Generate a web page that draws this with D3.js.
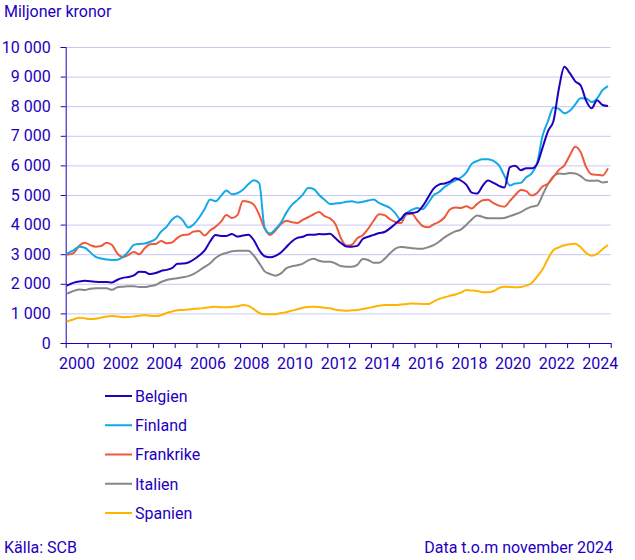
<!DOCTYPE html>
<html><head><meta charset="utf-8">
<script src="https://cdn.jsdelivr.net/npm/d3@7"></script>
<style>
body{margin:0;background:#fff}
svg{display:block}
text{font-family:Roboto,"Noto Sans",Arial,sans-serif}
</style></head>
<body><svg id="chart" width="635" height="560"></svg>
<script>
// ---- data (quarterly readings: Jan 2000, then Feb/May/Aug/Nov of each year) ----
const startMonth = "2000-01";
const quarterMonths = [2, 5, 8, 11];
const firstYear = 2000, lastYear = 2024;

const belgien = [1940,
1965,2040,2080,2100, 2090,2068,2061,2061, 2045,2138,2200,2232, 2285,2410,2398,2328,
2362,2435,2470,2530, 2675,2683,2720,2820, 2955,3130,3430,3645, 3618,3615,3685,3595,
3630,3660,3480,3140, 2930,2894,2945,3060, 3245,3430,3550,3590, 3660,3655,3680,3672,
3690,3540,3380,3262, 3254,3280,3515,3590, 3652,3715,3750,3873, 4030,4188,4382,4388,
4428,4623,4920,5218, 5353,5391,5449,5565, 5490,5350,5080,5050, 5310,5488,5410,5310,
5250,5940,5990,5840, 5900,5900,6050,6600, 7160,7500,8600,9330, 9115,8840,8700,8180,
7930,8200,8040,8006];

const finland = [3018,
3042,3140,3254,3220, 3064,2911,2853,2822, 2808,2813,2908,3085, 3313,3347,3362,3421,
3514,3760,3925,4167, 4280,4140,3900,4010, 4240,4530,4852,4790, 4970,5150,5025,5060,
5180,5360,5497,5400, 3900,3700,3850,4070, 4405,4668,4827,5012, 5235,5204,5000,4842,
4695,4714,4732,4770, 4790,4743,4770,4812, 4850,4730,4650,4560, 4380,4160,4380,4500,
4560,4520,4730,4990, 5100,5270,5390,5490, 5590,5760,6050,6150, 6210,6210,6150,6000,
5650,5320,5390,5410, 5600,5731,6080,7000, 7500,7960,7910,7760, 7845,8060,8270,8260,
8140,8260,8540,8682];

const frankrike = [3000,
2990,3047,3290,3390, 3307,3254,3278,3387, 3310,3020,2900,2975, 3077,3000,3200,3340,
3345,3445,3370,3395, 3553,3648,3667,3770, 3780,3630,3800,3930, 4100,4324,4220,4320,
4800,4775,4677,4338, 3864,3648,3803,4020, 4134,4083,4057,4161, 4248,4350,4426,4283,
4210,4010,3540,3290, 3320,3540,3640,3860, 4130,4350,4320,4180, 4090,4050,4340,4368,
4148,3952,3909,4010, 4090,4240,4510,4575, 4560,4620,4540,4700, 4820,4840,4725,4640,
4606,4800,5000,5170, 5130,4980,5070,5290, 5380,5610,5850,6000, 6340,6630,6440,5940,
5700,5680,5660,5900];

const italien = [1667,
1690,1760,1810,1790, 1835,1847,1847,1847, 1795,1883,1902,1920, 1915,1894,1890,1926,
1960,2060,2127,2165, 2190,2218,2260,2335, 2450,2570,2695,2870, 2985,3045,3098,3119,
3119,3119,2955,2700, 2420,2330,2275,2350, 2530,2590,2626,2680, 2790,2850,2776,2745,
2747,2685,2600,2578, 2578,2640,2840,2804, 2713,2710,2842,3029, 3190,3245,3230,3205,
3187,3187,3236,3305, 3420,3567,3678,3770, 3830,3990,4175,4310, 4260,4212,4212,4212,
4225,4285,4350,4420, 4530,4606,4640,5000, 5370,5630,5725,5710, 5740,5730,5640,5500,
5480,5490,5425,5450];

const spanien = [730,
745,800,853,834, 807,820,857,895, 911,893,874,879, 897,917,945,920,
912,940,1015,1060, 1107,1115,1132,1158, 1163,1186,1211,1225, 1207,1205,1215,1238,
1280,1255,1145,1020, 970,968,975,1010, 1040,1094,1140,1190, 1215,1227,1213,1190,
1171,1125,1106,1092, 1104,1118,1149,1183, 1223,1258,1280,1284, 1284,1300,1317,1335,
1330,1317,1317,1398, 1490,1546,1594,1640, 1700,1787,1775,1755, 1716,1713,1755,1857,
1900,1894,1881,1890, 1940,2025,2240,2490, 2850,3140,3230,3300, 3340,3355,3232,3040,
2950,3010,3170,3310];

const seriesNames = ["Belgien", "Finland", "Frankrike", "Italien", "Spanien"];
const seriesValues = [belgien, finland, frankrike, italien, spanien];
const seriesColors = ["#1e00be", "#12a9e6", "#f0583c", "#878787", "#ffb400"];

const yTicks = [0,1000,2000,3000,4000,5000,6000,7000,8000,9000,10000];
const xTickYears = d3.range(2000, 2026);
const xLabelYears = [2000,2002,2004,2006,2008,2010,2012,2014,2016,2018,2020,2022,2024];

// month categories
const months = [startMonth];
for (let y = firstYear; y <= lastYear; y++) for (const m of quarterMonths) months.push(y + "-" + String(m).padStart(2, "0"));
const monthPos = months.map(s => { const [y, m] = s.split("-").map(Number); return y + (m - 0.5) / 12; });

// ---- drawing ----
const ink = "#1e00be";
const fs = 16;
const svg = d3.select("#chart");
const x = d3.scaleLinear().domain([2000, 2025]).range([65.7, 610.7]);
const y = d3.scaleLinear().domain([0, 10000]).range([343, 47]);
const loc = d3.formatLocale({decimal: ",", thousands: "\u00a0", grouping: [3], currency: ["", " kr"]});
const fmt = loc.format(",d");

// grid
svg.append("g").selectAll("line").data(yTicks.filter(d => d > 0)).join("line")
  .attr("x1", x(2000)).attr("x2", x(2025))
  .attr("y1", d => y(d) + 0.5).attr("y2", d => y(d) + 0.5)
  .attr("stroke", "#cbc6f3").attr("stroke-width", 1);

// y axis
const ya = svg.append("g").attr("transform", `translate(${x(2000)},0)`)
  .call(d3.axisLeft(y).tickValues(yTicks).tickFormat(fmt).tickSize(5).tickPadding(10));
ya.select(".domain").attr("stroke", ink);
ya.selectAll(".tick line").attr("stroke", ink);
ya.selectAll("text").attr("fill", ink).attr("font-size", fs).attr("font-family", "Roboto");

// x axis ticks
const xa = svg.append("g").attr("transform", `translate(0,${y(0)})`)
  .call(d3.axisBottom(x).tickValues(xTickYears).tickFormat("").tickSize(5).tickSizeOuter(0));
xa.select(".domain").attr("stroke", ink);
xa.selectAll(".tick line").attr("stroke", ink);
// x axis labels (centered in year band)
const xl = svg.append("g").attr("transform", `translate(0,${y(0)})`)
  .call(d3.axisBottom(x).tickValues(xLabelYears.map(d => d + 0.5)).tickFormat(d => String(Math.floor(d))).tickSize(0).tickPadding(15));
xl.select(".domain").remove();
xl.selectAll("text").attr("fill", ink).attr("font-size", fs).attr("font-family", "Roboto");

// lines
const line = d3.line().x((d, i) => x(monthPos[i])).y(d => y(d)).curve(d3.curveMonotoneX);
const order = [4, 3, 2, 1, 0];
svg.append("g").selectAll("path").data(order).join("path")
  .attr("d", k => line(seriesValues[k]))
  .attr("fill", "none").attr("stroke", k => seriesColors[k])
  .attr("stroke-width", 2).attr("stroke-linejoin", "round");

// title
svg.append("text").attr("x", 4).attr("y", 17).text("Miljoner kronor")
  .attr("fill", ink).attr("font-size", fs);

// legend
const lg = svg.append("g").selectAll("g").data(seriesNames).join("g")
  .attr("transform", (d, i) => `translate(105,${396 + i * 29.25})`);
lg.append("line").attr("x1", 0).attr("x2", 27).attr("y1", 0).attr("y2", 0)
  .attr("stroke", (d, i) => seriesColors[i]).attr("stroke-width", 2);
lg.append("text").attr("x", 30).attr("y", 0).attr("dy", "0.36em").text(d => d)
  .attr("fill", ink).attr("font-size", fs);

// footer
svg.append("text").attr("x", 4).attr("y", 553).text("Källa: SCB").attr("fill", ink).attr("font-size", fs);
svg.append("text").attr("x", 613).attr("y", 553).attr("text-anchor", "end")
  .text("Data t.o.m november 2024").attr("fill", ink).attr("font-size", fs);
</script></body></html>
